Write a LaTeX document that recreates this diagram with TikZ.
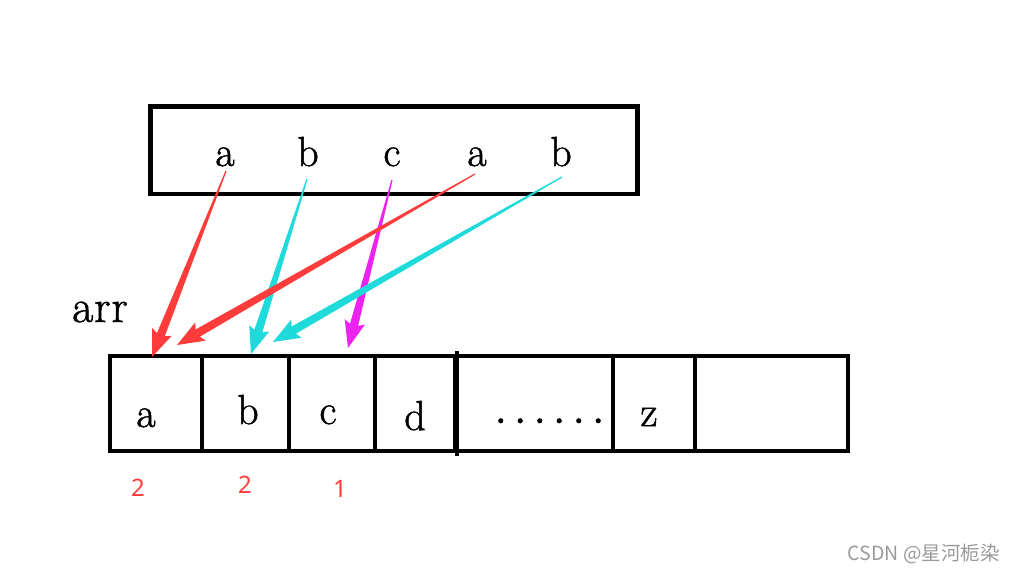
\documentclass[tikz,border=0pt]{standalone}
\usepackage{fontspec}
\usetikzlibrary{calc}
\newfontfamily\numfont{Noto Sans}
\newfontfamily\cjkfont{Noto Sans CJK SC}
\newfontfamily\lmheavy[FakeBold=1.2]{Latin Modern Roman}
\definecolor{arrred}{HTML}{FF3C3C}
\definecolor{arrcyan}{HTML}{1EDADA}
\definecolor{arrmag}{HTML}{EE22EE}
\definecolor{wmgrey}{HTML}{9A9A9A}
\newcommand{\tapArrow}[3]{%
  \fill[#1] ($(#2)!0.6pt!90:(#3)$) -- ($($(#3)!24pt!(#2)$)!4.2pt!90:(#3)$)
    -- ($($(#3)!27pt!(#2)$)!10.5pt!90:(#3)$) -- (#3)
    -- ($($(#3)!27pt!(#2)$)!10.5pt!-90:(#3)$) -- ($($(#3)!24pt!(#2)$)!4.2pt!-90:(#3)$)
    -- ($(#2)!0.6pt!-90:(#3)$) -- cycle;}
\tikzset{
  letter/.style={font=\lmheavy\fontsize{42}{42}\selectfont, anchor=base, inner sep=0pt},
  cnt/.style={font=\numfont\fontsize{24}{24}\selectfont, text=arrred, anchor=base, inner sep=0pt},
  boxline/.style={draw=black, line width=4.5pt},
  cell/.style={draw=black, line width=4pt, inner sep=0pt}
}
\begin{document}
\begin{tikzpicture}[x=1pt,y=-1pt]
\useasboundingbox (0,0) rectangle (1014,572);
% top box
\node[boxline, minimum width=487pt, minimum height=87.5pt, inner sep=0pt] (top) at (394,150.25) {};
\node[letter] (ta1) at (225,166) {a};
\node[letter] (tb1) at (308,166) {b};
\node[letter] (tc1) at (392,166) {c};
\node[letter] (ta2) at (477,166) {a};
\node[letter] (tb2) at (561,166) {b};
% bottom array
\node[letter, font=\lmheavy\fontsize{46}{46}\selectfont] (arr) at (100,322) {a\kern1pt r\kern1pt r};
\node[cell, minimum width=92.3pt, minimum height=94.2pt] (c1) at (155.85,403.4) {};
\node[cell, minimum width=86.7pt, minimum height=94.2pt] (c2) at (245.35,403.4) {};
\node[cell, minimum width=86.3pt, minimum height=94.2pt] (c3) at (331.85,403.4) {};
\node[cell, minimum width=80pt, minimum height=94.2pt] (c4) at (415,403.4) {};
\node[cell, minimum width=157.7pt, minimum height=94.2pt] (c5) at (533.85,403.4) {};
\node[cell, minimum width=82.3pt, minimum height=94.2pt] (c6) at (653.85,403.4) {};
\node[cell, minimum width=153.3pt, minimum height=94.2pt] (c7) at (771.65,403.4) {};
\draw[line width=4pt] (c4.north east) ++(0,-3) -- ($(c4.south east)+(0,3)$);
\node[letter] (la) at (146,427) {a};
\node[letter] (lb) at (248,424) {b};
\node[letter] (lc) at (328,424) {c};
\node[letter] (ld) at (415,430) {d};
\node[letter, font=\lmheavy\fontsize{54}{54}\selectfont] (ldots) at (549.5,423) {.\hspace{6pt}.\hspace{6pt}.\hspace{6pt}.\hspace{6pt}.\hspace{6pt}.};
\node[letter] (lz) at (649,426) {z};
% counts
\node[cnt] (n1) at (138,496) {2};
\node[cnt] (n2) at (245,493) {2};
\node[cnt] (n3) at (340,497) {1};
% arrow ends
\coordinate (s1) at (226,171);
\coordinate (s2) at (307,179);
\coordinate (s3) at (392,180);
\coordinate (s4) at (475,174);
\coordinate (s5) at (562,177);
\coordinate (t1) at (152,357);
\coordinate (t2) at (251,354);
\coordinate (t3) at (348,348);
\coordinate (t4) at (177,345);
\coordinate (t5) at (273,342);
\tapArrow{arrred}{s1}{t1}
\tapArrow{arrcyan}{s2}{t2}
\tapArrow{arrmag}{s3}{t3}
\tapArrow{arrred}{s4}{t4}
\tapArrow{arrcyan}{s5}{t5}
% watermark
\node[font=\cjkfont\fontsize{19.5}{19.5}\selectfont, text=wmgrey, anchor=base east, inner sep=0pt] (wm) at (1000,560) {CSDN @星河栀染};
\end{tikzpicture}
\end{document}
